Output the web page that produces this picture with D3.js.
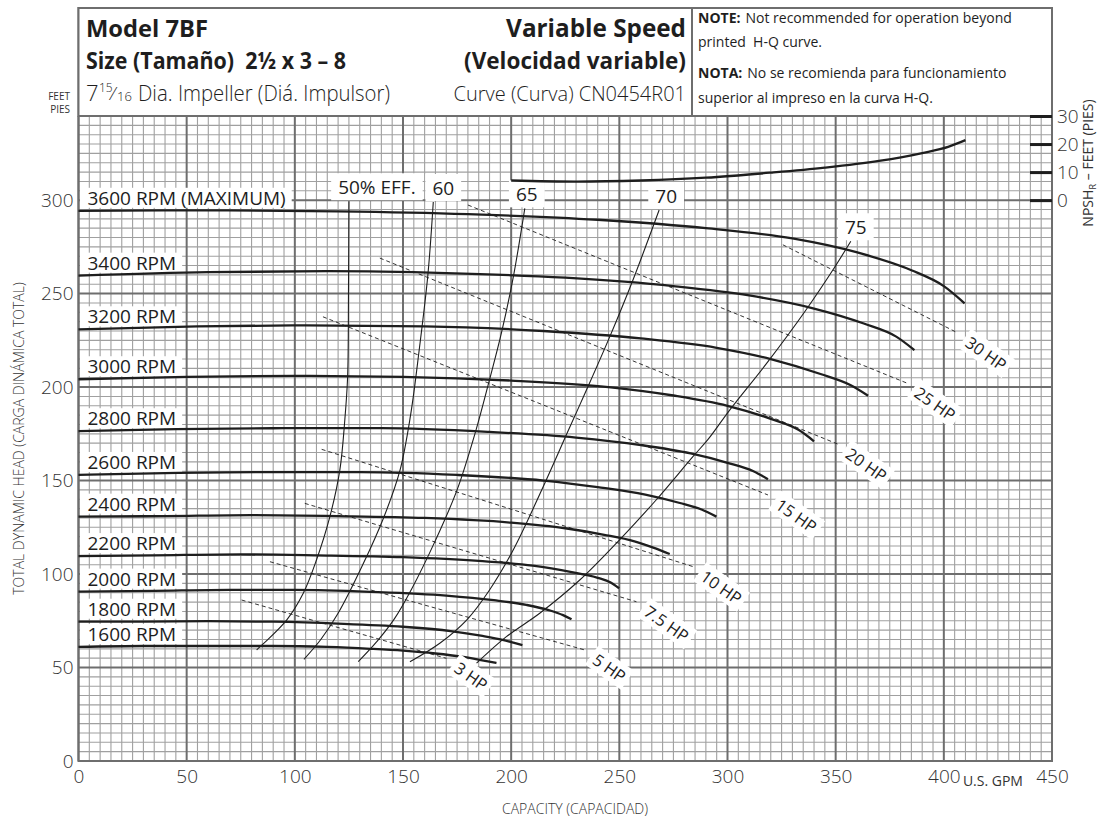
<!DOCTYPE html>
<html><head><meta charset="utf-8">
<script src="https://cdn.jsdelivr.net/npm/d3@7"></script>
<style>
body{margin:0;background:#fff;}
svg{display:block;font-family:"Open Sans","Noto Sans",sans-serif;}
</style></head><body>
<svg id="chart" width="1099" height="820"></svg>
<script>
// ---------- DATA ----------
const xTicks = [0,50,100,150,200,250,300,350,400,450];
const yTicks = [0,50,100,150,200,250,300];
const npshTicks = [0,10,20,30];

const rpmNames = ["3600 RPM (MAXIMUM)","3400 RPM","3200 RPM","3000 RPM","2800 RPM","2600 RPM","2400 RPM","2200 RPM","2000 RPM","1800 RPM","1600 RPM"];
const rpm3600 = [[0,294.3],[60,294.5],[120,294],[180,292.5],[240,289.5],[290,285],[330,279.5],[360,272],[385,262.5],[400,254],[409.6,244.8]];
const rpm3400 = [[0,259.6],[60,261.5],[115,262],[170,261],[225,258.5],[275,254],[310,249],[340,242],[363,234],[378,227],[386.4,219.8]];
const rpm3200 = [[0,230.9],[55,232.5],[105,233],[160,232.5],[215,230],[260,226],[295,221],[320,215],[343,207],[357,201],[365,195.4]];
const rpm3000 = [[0,204.2],[50,205.5],[100,206],[150,205.5],[200,203.5],[245,200],[275,195.5],[300,190],[320,183],[333,177],[340,171]];
const rpm2800 = [[0,176.4],[45,177.5],[95,178],[140,178],[190,176],[230,173],[260,169],[283,164.5],[300,159.5],[312,155],[318.7,150.7]];
const rpm2600 = [[0,153],[40,154],[85,154.5],[130,154.5],[175,153],[215,150],[240,146.5],[262,142.5],[278,138],[288,134.5],[294.9,130.7]];
const rpm2400 = [[0,130.7],[40,131],[80,131.5],[120,131],[160,130],[200,127.5],[225,124.5],[243,121],[257,117.5],[266,114],[273.3,110.7]];
const rpm2200 = [[0,109.6],[35,110],[75,110.5],[110,110],[150,109],[185,107],[210,104.5],[228,101],[240,98],[246,95.5],[249.9,92.4]];
const rpm2000 = [[0,90.6],[35,91],[70,91.5],[100,91.5],[135,90.5],[170,88.5],[192,86],[207,83.5],[218,80.5],[224,78],[227.9,75.8]];
const rpm1800 = [[0,74.5],[30,74.5],[60,74.8],[90,74.5],[120,73.5],[150,71.8],[172,69.5],[186,67],[196,64.8],[201,63.3],[205.2,62]];
const rpm1600 = [[0,61],[30,61.5],[60,61.5],[90,61.5],[115,61],[135,60],[150,59],[165,57.5],[177,55.8],[186,54],[193.2,52.4]];

const effNames = ["50% EFF.","60","65","70","75"];
const eff50 = [[125,299.4],[124.8,251],[124.4,205.5],[123.1,182.4],[120.8,155.6],[116.2,130.7],[110,107.5],[103.9,89.7],[96.2,75.4],[82.3,59.4]];
const eff60 = [[164,299],[161.5,260],[157.5,220],[153.5,185],[148.5,155],[141,130],[131,104],[120,79],[112,65],[104.2,54.4]];
const eff65 = [[206.3,295.6],[201,259],[195.5,229],[190,204],[183.5,176],[175,145],[165,118],[154,92],[146,76],[138,64],[129.3,53.1]];
const eff70 = [[268.4,294.7],[256.3,257.3],[245.6,227],[234.8,198.4],[226.5,177],[214.8,146.7],[201,113],[190,91.5],[179.4,75.4],[167,63],[153.2,53.1]];
const eff75 = [[357,278],[348.7,262.6],[335.7,240.3],[318.7,213.6],[301,187.7],[291,172],[284,162.8],[267,139.6],[250,118.2],[231.7,96.8],[213.2,79],[197.8,66.5],[184,52.3]];

const hpNames = ["30 HP","25 HP","20 HP","15 HP","10 HP","7.5 HP","5 HP","3 HP"];
const hp30 = [[325.6,276.1],[406.4,229]];
const hp25 = [[180,297.4],[382.8,202.2]];
const hp20 = [[139.3,269],[351,169.5]];
const hp15 = [[113,237.6],[318.7,142.3]];
const hp10 = [[112.4,166.7],[284,104]];
const hp7_5 = [[104.6,137.8],[257.9,85.2]];
const hp5 = [[88.5,106.6],[234,59.4]];
const hp3 = [[75.4,86.1],[170.1,54.9]];

const npshCurve = [[200,7],[230,6.6],[260,7],[290,8],[320,9.8],[345,11.6],[370,14],[390,16.8],[402,19],[410,21.4]];

// ---------- LAYOUT ----------
const svg = d3.select("#chart");
const x = d3.scaleLinear().domain([0,450]).range([78.5,1052]);
const y = d3.scaleLinear().domain([0,345]).range([761,116]);
const yN = d3.scaleLinear().domain([0,30]).range([y(300), y(345)]);
const ink = "#1e1e1e";
const grey = "#333";

// grid
const gGrid = svg.append("g");
const qs = d3.range(0,451,5), hs = d3.range(0,346,5);
gGrid.selectAll(".vm").data(qs.filter(q=>q%50!==0)).join("line")
  .attr("x1",d=>x(d)).attr("x2",d=>x(d)).attr("y1",y(0)).attr("y2",y(345))
  .attr("stroke","#a0a0a0").attr("stroke-width",1.1);
gGrid.selectAll(".hm").data(hs.filter(h=>h%50!==0)).join("line")
  .attr("y1",d=>y(d)).attr("y2",d=>y(d)).attr("x1",x(0)).attr("x2",x(450))
  .attr("stroke","#a0a0a0").attr("stroke-width",1.1);
gGrid.selectAll(".vM").data(qs.filter(q=>q%50===0)).join("line")
  .attr("x1",d=>x(d)).attr("x2",d=>x(d)).attr("y1",y(0)).attr("y2",y(345))
  .attr("stroke","#6e6e6e").attr("stroke-width",2);
gGrid.selectAll(".hM").data(hs.filter(h=>h%50===0)).join("line")
  .attr("y1",d=>y(d)).attr("y2",d=>y(d)).attr("x1",x(0)).attr("x2",x(450))
  .attr("stroke","#6e6e6e").attr("stroke-width",2);

// frame + header
svg.append("rect").attr("x",x(0)).attr("y",8).attr("width",x(450)-x(0)).attr("height",y(0)-8)
  .attr("fill","none").attr("stroke","#6e6e6e").attr("stroke-width",2);
svg.append("rect").attr("x",x(0)).attr("y",8).attr("width",x(450)-x(0)).attr("height",y(345)-8)
  .attr("fill","#fff").attr("stroke","#6e6e6e").attr("stroke-width",2);
svg.append("line").attr("x1",692).attr("x2",692).attr("y1",8).attr("y2",y(345))
  .attr("stroke","#6e6e6e").attr("stroke-width",2);

const gBoxes = svg.append("g");
const gCurves = svg.append("g");
const gText = svg.append("g").attr("fill",ink);

// RPM curves
const lineMono = d3.line().x(d=>x(d[0])).y(d=>y(d[1])).curve(d3.curveMonotoneX);
const rpmCurves = [rpm3600,rpm3400,rpm3200,rpm3000,rpm2800,rpm2600,rpm2400,rpm2200,rpm2000,rpm1800,rpm1600];
rpmCurves.forEach((c,i)=>{
  gCurves.append("path").attr("d",lineMono(c)).attr("fill","none").attr("stroke",ink).attr("stroke-width",2.3);
  const by = y(c[0][1]) - 6;
  const t = gText.append("text").attr("x",x(0)+9).attr("y",by).attr("font-size",19).text(rpmNames[i]);
  const bb = t.node().getBBox();
  gBoxes.append("rect").attr("x",x(0)+1.5).attr("y",by-17).attr("width",bb.x+bb.width+6-(x(0)+1.5)).attr("height",20).attr("fill","#fff");
});

// efficiency curves
const lineCR = d3.line().x(d=>x(d[0])).y(d=>y(d[1])).curve(d3.curveCatmullRom.alpha(0.5));
const effCurves = [eff50,eff60,eff65,eff70,eff75];
const effDx = [28,10,2,7,5];
effCurves.forEach((c,i)=>{
  gCurves.append("path").attr("d",lineCR(c)).attr("fill","none").attr("stroke",ink).attr("stroke-width",1.1);
  const tx = x(c[0][0])+effDx[i], ty = y(c[0][1])-7;
  const t = gText.append("text").attr("x",tx).attr("y",ty).attr("text-anchor","middle").attr("font-size",19).text(effNames[i]);
  const bb = t.node().getBBox();
  gBoxes.append("rect").attr("x",bb.x-7).attr("y",bb.y-1).attr("width",bb.width+14).attr("height",bb.height+1).attr("fill","#fff");
});

// HP lines
const hpLines = [hp30,hp25,hp20,hp15,hp10,hp7_5,hp5,hp3];
const lineLin = d3.line().x(d=>x(d[0])).y(d=>y(d[1]));
hpLines.forEach((c,i)=>{
  gCurves.append("path").attr("d",lineLin(c)).attr("fill","none").attr("stroke",ink)
    .attr("stroke-width",0.9).attr("stroke-dasharray","4,3");
  const e = c[c.length-1];
  const g = svg.append("g").attr("transform",`translate(${x(e[0])+4},${y(e[1])+4}) rotate(35)`);
  const r = g.append("rect").attr("fill","#fff");
  const t = g.append("text").attr("x",7).attr("dy","0.35em").attr("font-size",16.5).attr("fill",ink).text(hpNames[i]);
  const bb = t.node().getBBox();
  r.attr("x",bb.x-4).attr("y",bb.y).attr("width",bb.width+8).attr("height",bb.height);
});

// NPSH curve
gCurves.append("path").attr("d",d3.line().x(d=>x(d[0])).y(d=>yN(d[1])).curve(d3.curveMonotoneX)(npshCurve))
  .attr("fill","none").attr("stroke",ink).attr("stroke-width",2.3);

// axes
function styleTicks(g){
  g.select(".domain").remove();
  g.selectAll("text").attr("font-size",19).attr("fill",grey).attr("font-family","Open Sans").attr("font-weight",300);
}
const ax = svg.append("g").attr("transform",`translate(0,${y(0)})`)
  .call(d3.axisBottom(x).tickValues(xTicks).tickSize(0).tickPadding(9));
styleTicks(ax);
const ay = svg.append("g").attr("transform",`translate(${x(0)},0)`)
  .call(d3.axisLeft(y).tickValues(yTicks).tickSize(0).tickPadding(5));
styleTicks(ay);
const an = svg.append("g").attr("transform",`translate(${x(450)},0)`)
  .call(d3.axisRight(yN).tickValues(npshTicks).tickSizeInner(-22).tickSizeOuter(0).tickPadding(5));
styleTicks(an);
an.selectAll("line").attr("stroke",ink).attr("stroke-width",3);

// axis titles
gText.append("text").attr("x",(x(400)+x(450))/2-5).attr("y",y(0)+25).attr("text-anchor","middle")
  .attr("font-size",14).attr("fill",grey).text("U.S. GPM");
gText.append("text").attr("x",575).attr("y",814).attr("text-anchor","middle")
  .attr("font-size",14).attr("fill",grey).attr("font-weight",300).text("CAPACITY (CAPACIDAD)");
gText.append("text").attr("transform",`translate(19,${(y(0)+y(345))/2}) rotate(-90)`).attr("text-anchor","middle")
  .attr("dy","0.35em").attr("font-size",14).attr("fill",grey).attr("font-weight",300).text("TOTAL DYNAMIC HEAD (CARGA DINÁMICA TOTAL)");
const nt = gText.append("text").attr("transform",`translate(1088,163) rotate(-90)`).attr("text-anchor","middle")
  .attr("dy","0.35em").attr("font-size",14).attr("fill",grey);
nt.append("tspan").text("NPSH");
nt.append("tspan").attr("font-size",9.5).attr("dy","3").text("R");
nt.append("tspan").attr("dy","-3").text(" – FEET (PIES)");
gText.append("text").attr("x",70).attr("y",100).attr("text-anchor","end").attr("font-size",10).attr("fill",grey).text("FEET");
gText.append("text").attr("x",70).attr("y",113).attr("text-anchor","end").attr("font-size",10).attr("fill",grey).text("PIES");

// header text
const hx = 86;
function fit(sel, w){ return sel.attr("textLength",w).attr("lengthAdjust","spacingAndGlyphs"); }
fit(gText.append("text").attr("x",hx).attr("y",37).attr("font-size",24).attr("font-weight",700).text("Model 7BF"),122);
fit(gText.append("text").attr("x",hx).attr("y",69).attr("font-size",24).attr("font-weight",700).text("Size (Tamaño)\u00a0 2½ x 3 – 8"),260);
gText.append("text").attr("x",hx).attr("y",101).attr("font-size",22).attr("font-weight",300).text("7");
gText.append("text").attr("x",hx+13).attr("y",92).attr("font-size",12).attr("font-weight",300).text("15");
gText.append("text").attr("x",hx+26).attr("y",100).attr("font-size",19).attr("font-weight",300).text("⁄");
gText.append("text").attr("x",hx+31).attr("y",101).attr("font-size",13).attr("font-weight",300).text("16");
fit(gText.append("text").attr("x",hx+52).attr("y",101).attr("font-size",22).attr("font-weight",300).text("Dia. Impeller (Diá. Impulsor)"),252);
gText.append("text").attr("x",686).attr("y",37).attr("text-anchor","end").attr("font-size",24.3).attr("font-weight",700).text("Variable Speed");
fit(gText.append("text").attr("x",686).attr("y",69).attr("text-anchor","end").attr("font-size",24).attr("font-weight",700).text("(Velocidad variable)"),222);
gText.append("text").attr("x",686).attr("y",101).attr("text-anchor","end").attr("font-size",20).attr("font-weight",300).text("Curve (Curva) CN0454R01");

const notes = [["NOTE:","Not recommended for operation beyond",23],["","printed\u00a0 H-Q curve.",47],["NOTA:","No se recomienda para funcionamiento",78],["","superior al impreso en la curva H-Q.",103]];
notes.forEach(n=>{
  let nx = 698;
  if(n[0]){
    const b = gText.append("text").attr("x",nx).attr("y",n[2]).attr("font-size",14).attr("font-weight",700).text(n[0]);
    nx += b.node().getComputedTextLength() + 5;
  }
  gText.append("text").attr("x",nx).attr("y",n[2]).attr("font-size",14).text(n[1]);
});
</script>
</body></html>
